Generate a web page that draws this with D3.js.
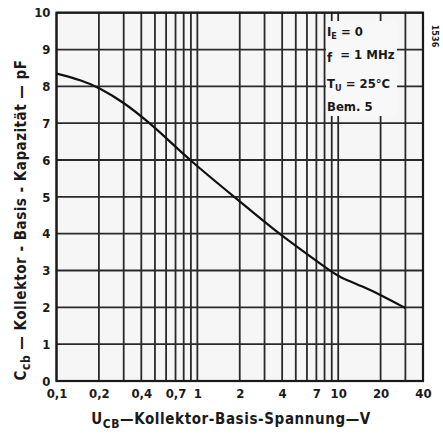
<!DOCTYPE html>
<html><head><meta charset="utf-8">
<script src="https://cdn.jsdelivr.net/npm/d3@7"></script>
<style>
body{margin:0;background:#fff;}
text{font-family:"DejaVu Sans Condensed","DejaVu Sans",sans-serif;font-weight:bold;fill:#1a1a1a;}
</style></head>
<body><svg id="c" width="443" height="434"></svg>
<script>
// Data
const voltage = [0.1, 0.15, 0.2, 0.3, 0.46, 0.6, 0.88, 1.88, 3, 3.8, 8.7, 10, 15, 20, 30];
const capacitance = [8.35, 8.17, 7.97, 7.57, 7.0, 6.6, 6.0, 4.96, 4.32, 4.0, 3.0, 2.84, 2.56, 2.34, 1.98];
const xGrid = [0.1,0.2,0.3,0.4,0.5,0.6,0.7,0.8,0.9,1,2,3,4,5,6,7,8,9,10,20,30,40];
const xTickValues = [0.1,0.2,0.4,0.7,1,2,4,7,10,20,40];
const xTickLabels = ["0,1","0,2","0,4","0,7","1","2","4","7","10","20","40"];
const yTicks = [0,1,2,3,4,5,6,7,8,9,10];
const legendLines = [["I","E"," = 0"],["f","","  = 1 MHz"],["T","U"," = 25°C"],["Bem. 5","",""]];

const svg = d3.select("#c");
const L=56.5, R=423, T=12.7, B=381;
const x = d3.scaleLog().domain([0.1,40]).range([L,R]);
const y = d3.scaleLinear().domain([0,10]).range([B,T]);

svg.append("rect").attr("x",L).attr("y",T).attr("width",R-L).attr("height",B-T).attr("fill","#f6f6f6");

const grid = svg.append("g").attr("stroke","#2a2a2a").attr("stroke-width",1.8);
grid.selectAll("line.v").data(xGrid).join("line").attr("class","v")
  .attr("x1",d=>x(d)).attr("x2",d=>x(d)).attr("y1",T).attr("y2",B);
grid.selectAll("line.h").data(yTicks).join("line").attr("class","h")
  .attr("y1",d=>y(d)).attr("y2",d=>y(d)).attr("x1",L).attr("x2",R);

// legend box covering grid
const lg = svg.append("g");
lg.append("rect").attr("x",326).attr("y",21).attr("width",71).attr("height",95).attr("fill","#f8f8f8");
const lt = lg.selectAll("text").data(legendLines).join("text")
  .attr("x",327).attr("y",(d,i)=>[36,62,88,111][i]).attr("font-size",13).attr("xml:space","preserve");
lt.append("tspan").text(d=>d[0]);
lt.append("tspan").attr("font-size",9).attr("dy",3).text(d=>d[1]);
lt.append("tspan").attr("dy",-3).text(d=>d[2]);

svg.append("rect").attr("x",L).attr("y",T).attr("width",R-L).attr("height",B-T)
  .attr("fill","none").attr("stroke","#1a1a1a").attr("stroke-width",2.2);

// curve
svg.append("path").datum(d3.zip(voltage,capacitance))
  .attr("fill","none").attr("stroke","#111").attr("stroke-width",2.2)
  .attr("d", d3.line().x(d=>x(d[0])).y(d=>y(d[1])).curve(d3.curveBasis));

// axes
const xa = svg.append("g").attr("transform",`translate(0,${B})`)
  .call(d3.axisBottom(x).tickValues(xTickValues).tickSize(0).tickPadding(8).tickFormat((d,i)=>xTickLabels[i]));
xa.select(".domain").remove();
xa.selectAll("text").attr("font-size",13).attr("font-family",null).attr("fill","#1a1a1a");
const ya = svg.append("g").attr("transform",`translate(${L},0)`)
  .call(d3.axisLeft(y).tickValues(yTicks).tickSize(0).tickPadding(6).tickFormat(d3.format("d")));
ya.select(".domain").remove();
ya.selectAll("text").attr("font-size",13).attr("font-family",null).attr("fill","#1a1a1a");

// axis titles
const xt = svg.append("text").attr("x",231).attr("y",424).attr("text-anchor","middle").attr("font-size",15).attr("letter-spacing",0.6);
xt.append("tspan").text("U");
xt.append("tspan").attr("font-size",12).attr("dy",4).text("CB");
xt.append("tspan").attr("dy",-4).text("—Kollektor-Basis-Spannung—V");

const yt = svg.append("text").attr("transform","translate(26,220) rotate(-90)").attr("text-anchor","middle").attr("font-size",15).attr("letter-spacing",0.5);
yt.append("tspan").text("C");
yt.append("tspan").attr("font-size",12).attr("dy",4).text("cb");
yt.append("tspan").attr("dy",-4).text(" — Kollektor - Basis - Kapazität — pF");

svg.append("text").attr("transform","translate(432,36) rotate(90)").attr("text-anchor","middle").attr("font-size",9).text("1536");
</script></body></html>
